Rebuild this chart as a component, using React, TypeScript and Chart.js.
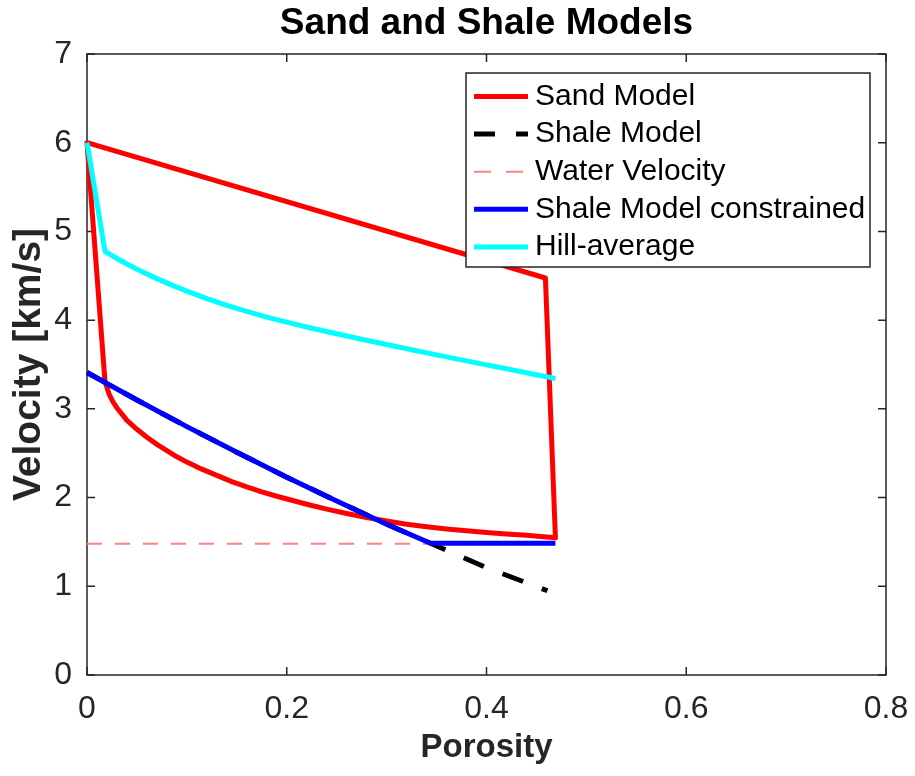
import React, { useEffect, useRef } from "react";
import { Chart, registerables } from "chart.js";

Chart.register(...registerables);

const FONT = '"Liberation Sans", Arial, Helvetica, sans-serif';
const AXIS_COLOR = "#262626";

const chartTitle = "Sand and Shale Models";
const xTitle = "Porosity";
const yTitle = "Velocity [km/s]";

const xTicks = [0, 0.2, 0.4, 0.6, 0.8];
const xTickLabels = ["0", "0.2", "0.4", "0.6", "0.8"];
const yTicks = [0, 1, 2, 3, 4, 5, 6, 7];
const yTickLabels = ["0", "1", "2", "3", "4", "5", "6", "7"];

const seriesLabels = [
  "Sand Model",
  "Shale Model",
  "Water Velocity",
  "Shale Model constrained",
  "Hill-average",
];

// Sand model: upper bound, right edge, then lower curve back to the mineral point
const sandPorosity = [
  0, 0.459, 0.469, 0.44, 0.42, 0.4, 0.38, 0.36, 0.34, 0.32, 0.3, 0.28, 0.26,
  0.24, 0.22, 0.205, 0.19, 0.175, 0.16, 0.145, 0.13, 0.115, 0.1, 0.09, 0.08,
  0.07, 0.06, 0.05, 0.045, 0.04, 0.035, 0.03, 0.026, 0.022, 0.018, 0,
];
const sandVelocity = [
  6.0, 4.475, 1.547, 1.575, 1.59, 1.605, 1.625, 1.645, 1.67, 1.7, 1.735,
  1.775, 1.82, 1.87, 1.925, 1.97, 2.015, 2.065, 2.12, 2.18, 2.25, 2.32, 2.4,
  2.46, 2.53, 2.6, 2.68, 2.77, 2.82, 2.87, 2.94, 3.01, 3.08, 3.17, 3.31, 6.0,
];

const shalePorosity = [0, 0.05, 0.1, 0.15, 0.2, 0.25, 0.3, 0.344, 0.4, 0.461];
const shaleVelocity = [3.41, 3.1, 2.8, 2.51, 2.23, 1.96, 1.7, 1.485, 1.21, 0.95];

const waterPorosity = [0, 0.469];
const waterVelocity = [1.48, 1.48];

const constrainedPorosity = [0, 0.05, 0.1, 0.15, 0.2, 0.25, 0.3, 0.344, 0.469];
const constrainedVelocity = [3.41, 3.1, 2.8, 2.51, 2.23, 1.96, 1.7, 1.485, 1.485];

const hillPorosity = [
  0, 0.018, 0.03, 0.04, 0.055, 0.07, 0.085, 0.1, 0.12, 0.14, 0.16, 0.18, 0.2,
  0.225, 0.25, 0.275, 0.3, 0.325, 0.35, 0.375, 0.4, 0.425, 0.45, 0.469,
];
const hillVelocity = [
  6.0, 4.775, 4.695, 4.633, 4.547, 4.468, 4.395, 4.327, 4.243, 4.167, 4.098,
  4.035, 3.977, 3.909, 3.846, 3.785, 3.725, 3.667, 3.609, 3.552, 3.496, 3.44,
  3.385, 3.343,
];

const toPoints = (xs: number[], ys: number[]) => xs.map((x, i) => ({ x, y: ys[i] }));

const framePlugin = {
  id: "matlabFrame",
  beforeDatasetsDraw(chart: any) {
    const { ctx, chartArea: a, scales } = chart;
    ctx.save();
    ctx.strokeStyle = AXIS_COLOR;
    ctx.lineWidth = 1.5;
    ctx.setLineDash([]);
    ctx.strokeRect(a.left, a.top, a.right - a.left, a.bottom - a.top);
    const tl = 8;
    ctx.beginPath();
    xTicks.forEach((v) => {
      const px = scales.x.getPixelForValue(v);
      ctx.moveTo(px, a.bottom);
      ctx.lineTo(px, a.bottom - tl);
      ctx.moveTo(px, a.top);
      ctx.lineTo(px, a.top + tl);
    });
    yTicks.forEach((v) => {
      const py = scales.y.getPixelForValue(v);
      ctx.moveTo(a.left, py);
      ctx.lineTo(a.left + tl, py);
      ctx.moveTo(a.right, py);
      ctx.lineTo(a.right - tl, py);
    });
    ctx.stroke();
    ctx.restore();
  },
  afterDatasetsDraw(chart: any) {
    const { ctx, chartArea: a } = chart;
    const w = 404;
    const h = 194;
    const lx = a.right - 16 - w;
    const ly = a.top + 19;
    ctx.save();
    ctx.fillStyle = "#ffffff";
    ctx.fillRect(lx, ly, w, h);
    ctx.strokeStyle = AXIS_COLOR;
    ctx.lineWidth = 1.5;
    ctx.setLineDash([]);
    ctx.strokeRect(lx, ly, w, h);
    ctx.font = `30px ${FONT}`;
    ctx.textBaseline = "middle";
    ctx.textAlign = "left";
    chart.data.datasets.forEach((ds: any, i: number) => {
      const cy = ly + 23.5 + i * 37.6;
      ctx.beginPath();
      ctx.strokeStyle = ds.borderColor;
      ctx.lineWidth = ds.borderWidth;
      ctx.lineCap = "butt";
      ctx.setLineDash(ds.legendDash || []);
      ctx.moveTo(lx + 8, cy);
      ctx.lineTo(lx + 62, cy);
      ctx.stroke();
      ctx.setLineDash([]);
      ctx.fillStyle = "#000000";
      ctx.fillText(ds.label, lx + 69, cy);
    });
    ctx.restore();
  },
};

export default function App() {
  const canvasRef = useRef<HTMLCanvasElement | null>(null);

  useEffect(() => {
    document.body.style.margin = "0";
    const canvas = canvasRef.current;
    if (!canvas) return;

    const tickFont = { family: FONT, size: 32 };

    const chart = new Chart(canvas, {
      type: "scatter",
      data: {
        datasets: [
          {
            label: seriesLabels[0],
            data: toPoints(sandPorosity, sandVelocity),
            borderColor: "#ff0000",
            backgroundColor: "#ff0000",
            borderWidth: 5,
            showLine: true,
            pointRadius: 0,
            borderJoinStyle: "round",
            borderCapStyle: "round",
            order: 5,
            clip: false,
          },
          {
            label: seriesLabels[1],
            data: toPoints(shalePorosity, shaleVelocity),
            borderColor: "#000000",
            backgroundColor: "#000000",
            borderWidth: 5,
            borderDash: [22, 20],
            legendDash: [21, 21],
            showLine: true,
            pointRadius: 0,
            order: 4,
            clip: false,
          },
          {
            label: seriesLabels[2],
            data: toPoints(waterPorosity, waterVelocity),
            borderColor: "#ff8080",
            backgroundColor: "#ff8080",
            borderWidth: 2,
            borderDash: [15, 13],
            legendDash: [17, 15],
            showLine: true,
            pointRadius: 0,
            order: 3,
            clip: false,
          },
          {
            label: seriesLabels[3],
            data: toPoints(constrainedPorosity, constrainedVelocity),
            borderColor: "#0000ff",
            backgroundColor: "#0000ff",
            borderWidth: 5,
            showLine: true,
            pointRadius: 0,
            borderJoinStyle: "round",
            order: 2,
            clip: false,
          },
          {
            label: seriesLabels[4],
            data: toPoints(hillPorosity, hillVelocity),
            borderColor: "#00ffff",
            backgroundColor: "#00ffff",
            borderWidth: 5,
            showLine: true,
            pointRadius: 0,
            borderJoinStyle: "round",
            order: 1,
            clip: false,
          },
        ] as any,
      },
      options: {
        animation: false,
        responsive: false,
        devicePixelRatio: 1,
        events: [],
        layout: { padding: 0 },
        plugins: {
          legend: { display: false },
          tooltip: { enabled: false },
          title: {
            display: true,
            text: chartTitle,
            fullSize: false,
            color: "#000000",
            font: { family: FONT, size: 37, weight: "bold" },
            padding: { top: 2, bottom: 7.6 },
          },
        },
        scales: {
          x: {
            type: "linear",
            min: 0,
            max: 0.8,
            afterBuildTicks: (s: any) => {
              s.ticks = xTicks.map((v) => ({ value: v }));
            },
            afterFit: (s: any) => {
              s.height = 101;
              s.paddingLeft = 0;
              s.paddingRight = 29;
            },
            grid: { display: false, drawTicks: false },
            border: { display: false },
            ticks: {
              autoSkip: false,
              maxRotation: 0,
              padding: 15,
              color: AXIS_COLOR,
              font: tickFont,
              callback: (_v: any, i: number) => xTickLabels[i],
            },
            title: {
              display: true,
              text: xTitle,
              color: AXIS_COLOR,
              font: { family: FONT, size: 33, weight: "bold" },
              padding: { top: 0, bottom: 8 },
            },
          },
          y: {
            type: "linear",
            min: 0,
            max: 7,
            afterBuildTicks: (s: any) => {
              s.ticks = yTicks.map((v) => ({ value: v }));
            },
            afterFit: (s: any) => {
              s.width = 87;
              s.paddingTop = 0;
              s.paddingBottom = 0;
            },
            grid: { display: false, drawTicks: false },
            border: { display: false },
            ticks: {
              autoSkip: false,
              padding: 15,
              color: AXIS_COLOR,
              font: tickFont,
              callback: (_v: any, i: number) => yTickLabels[i],
            },
            title: {
              display: true,
              text: yTitle,
              color: AXIS_COLOR,
              font: { family: FONT, size: 39, weight: "bold" },
              padding: { top: 5.6, bottom: 0 },
            },
          },
        },
      } as any,
      plugins: [framePlugin],
    });

    return () => {
      chart.destroy();
    };
  }, []);

  return (
    <div style={{ width: 915, height: 776, position: "relative", background: "#ffffff" }}>
      <canvas ref={canvasRef} width={915} height={776} style={{ display: "block" }} />
    </div>
  );
}
